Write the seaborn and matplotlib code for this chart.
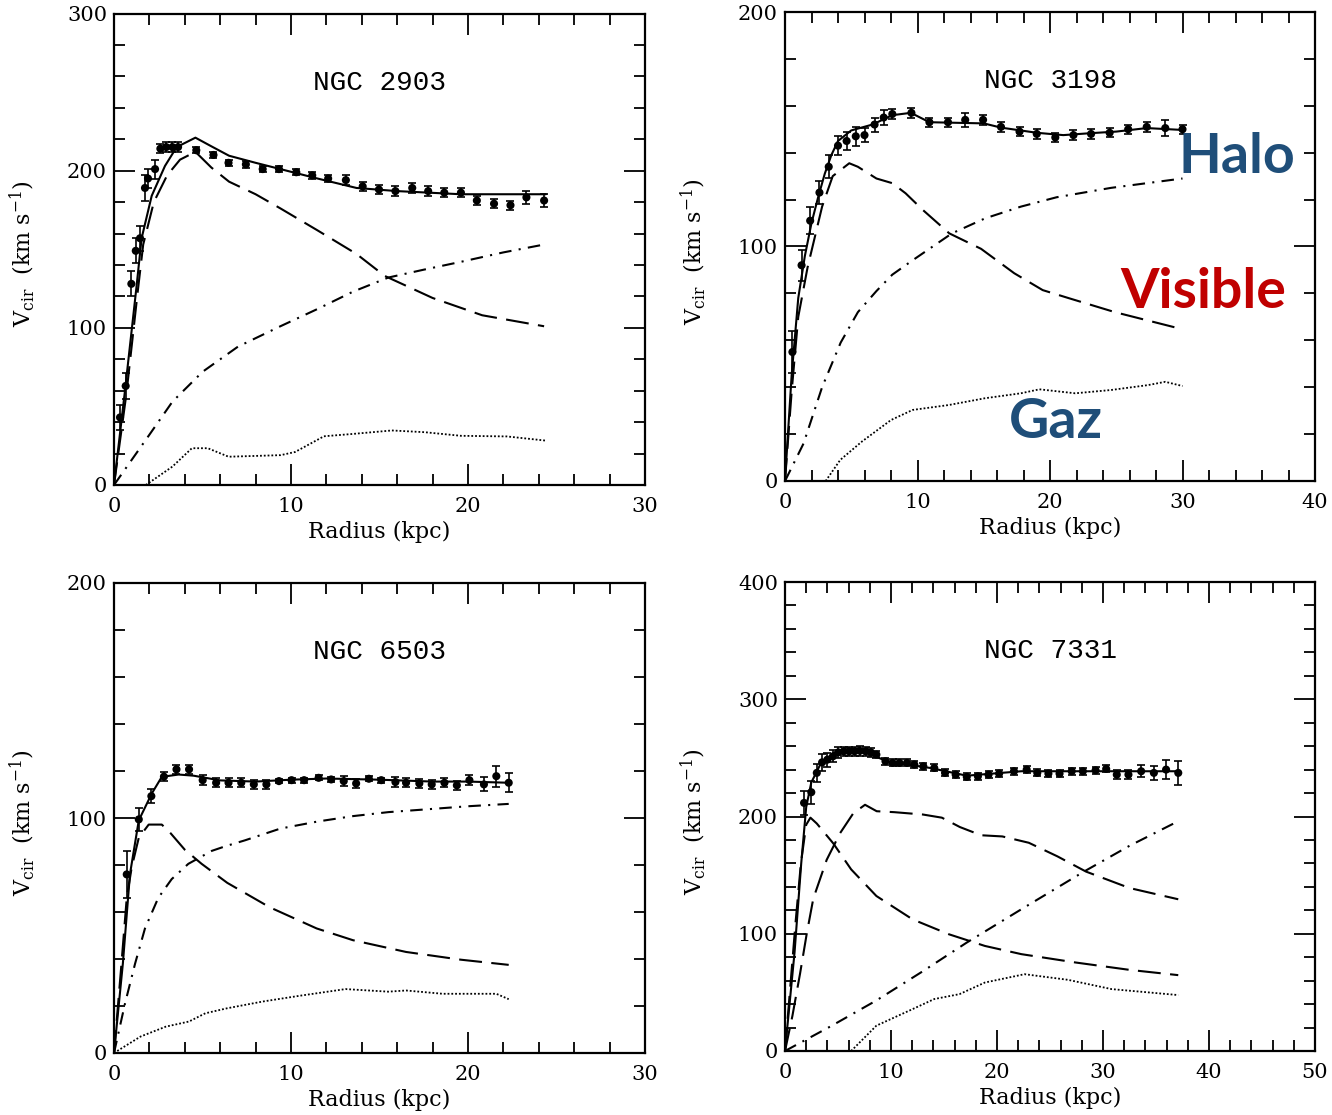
import numpy as np
import pandas as pd
import matplotlib
matplotlib.use("Agg")
import matplotlib.pyplot as plt
import seaborn as sns
from matplotlib.ticker import MultipleLocator

# ---------------- NGC 2903 ----------------
obs_2903_r = [0.34, 0.66, 0.98, 1.23, 1.47, 1.75, 1.92, 2.32, 2.62, 2.95, 3.3, 3.62, 4.65, 5.62, 6.47,
              7.45, 8.4, 9.32, 10.3, 11.2, 12.1, 13.1, 14.05, 14.97, 15.9, 16.85, 17.75, 18.66,
              19.6, 20.5, 21.47, 22.4, 23.3, 24.3]
obs_2903_v = [43, 63, 128, 149, 157, 189, 195, 201, 214, 215, 215, 215, 213, 210, 205, 204, 201,
              201, 199, 197, 195, 194, 190, 188, 187, 189, 187, 186, 186, 181, 179, 178, 183, 181]
obs_2903_e = [8, 8, 8, 8, 8, 8, 6, 6, 3, 3, 3, 3, 2, 2, 2, 2, 2, 2, 2, 2, 2, 3, 3, 3, 3, 3, 3, 3,
              3, 3, 3, 3, 4, 4]
tot_2903_r = [0, 0.62, 1.28, 1.56, 2.13, 2.88, 3.54, 4.6, 5.5, 6.5, 8.0, 9.4, 11.5, 13.7, 16.0, 19.6, 22.0, 24.4]
tot_2903_v = [0, 60, 127, 157, 184, 203, 215, 221, 215.5, 209.5, 205, 201, 195, 189, 187, 185, 185, 185]
vis_2903_r = [0, 0.7, 1.35, 1.65, 2.25, 3.0, 3.73, 4.6, 5.5, 6.5, 8.0, 9.4, 11.5, 13.7, 15.3, 18.0, 20.8, 24.3]
vis_2903_v = [0, 58, 124, 153, 180, 197, 207, 212, 202, 193, 185, 176, 162, 147, 133, 119, 108, 101]
halo_2903_r = [0, 1, 2, 3.3, 5, 7, 9.4, 11.5, 13.5, 15.5, 17.5, 19.6, 22, 24.3]
halo_2903_v = [0, 16, 32, 53, 72, 88, 101, 112, 123, 132, 137, 142, 148, 153]
gas_2903_r = [1.8, 3.3, 4.4, 5.3, 6.47, 8.0, 9.42, 10.23, 11.86, 13.5, 15.7, 17.55, 19.6, 22.2, 24.35]
gas_2903_v = [0, 11.7, 23.4, 23.4, 18, 18.5, 19, 21, 31, 32.5, 34.7, 33.6, 31.3, 30.9, 28.3]

# ---------------- NGC 3198 ----------------
obs_3198_r = [0.56, 1.25, 1.9, 2.6, 3.3, 4.0, 4.65, 5.34, 6.0, 6.76, 7.45, 8.1, 9.54, 10.9, 12.3,
              13.6, 14.95, 16.3, 17.7, 19.0, 20.4, 21.77, 23.1, 24.5, 25.9, 27.3, 28.7, 30.0]
obs_3198_v = [55, 92, 111, 123, 134, 143, 145, 147, 147.5, 152, 155, 156.5, 157, 153, 153, 154, 154,
              151, 149, 148, 146.5, 147.5, 148, 148.5, 150, 151, 150.5, 150]
obs_3198_e = [9, 6.5, 5.7, 5, 5, 4, 4, 4, 3, 3, 3, 2, 2, 2, 2, 3, 2, 2, 2, 2, 2, 2, 2, 2, 2, 2, 3.5, 2]
tot_3198_r = [0, 0.5, 1.0, 1.5, 2.0, 2.5, 3.0, 3.5, 4.0, 5.0, 6.6, 8.1, 9.5, 10.9, 15.0, 16.3, 19.0,
              21.0, 23.0, 25.0, 27.3, 30.0]
tot_3198_v = [0, 45, 78, 96, 110, 121, 131, 139, 145, 149.5, 152, 156, 157, 153, 152.5, 150.7, 148.5,
              147.5, 148.3, 149, 150.5, 149.7]
vis_3198_r = [0, 0.5, 1.0, 1.7, 2.8, 3.6, 4.85, 5.5, 6.9, 8.1, 9.1, 10.4, 12.4, 14.8, 17.3, 19.45, 21.4, 24.9, 30.0]
vis_3198_v = [0, 38, 70, 91, 117, 130, 135.5, 134, 129, 127, 122.7, 115.6, 105.6, 99, 88.6, 81.4, 78, 72, 64.7]
halo_3198_r = [0, 1.4, 2.8, 4.2, 5.5, 6.9, 8.1, 9.6, 12.6, 15.1, 17.8, 20.5, 24.6, 30.0]
halo_3198_v = [0, 16, 40, 59, 72, 81, 88, 94, 105.6, 112, 117, 121, 125, 129]
gas_3198_r = [3.07, 4.17, 5.8, 8.0, 9.63, 12.36, 15.1, 17.8, 19.2, 21.9, 24.6, 27.4, 28.7, 30.0]
gas_3198_v = [0, 9, 16.8, 26, 30.3, 32.4, 35.3, 37.4, 39.1, 37.4, 38.8, 40.9, 42.3, 40.5]

# ---------------- NGC 6503 ----------------
obs_6503_r = [0.72, 1.4, 2.11, 2.82, 3.53, 4.24, 5.01, 5.77, 6.47, 7.19, 7.9, 8.61, 9.32, 10.03,
              10.74, 11.56, 12.27, 12.98, 13.68, 14.4, 15.1, 15.9, 16.5, 17.25, 17.95, 18.67, 19.37,
              20.08, 20.9, 21.6, 22.3]
obs_6503_v = [76, 99.4, 109.3, 117.6, 120.7, 120.7, 116.1, 115, 115, 115, 114.3, 114.3, 115.7, 116.1,
              116.1, 117.1, 116.4, 115.7, 114.7, 116.7, 116.1, 115.3, 115, 114.7, 114.3, 115, 113.9,
              116.1, 114.3, 117.8, 115]
obs_6503_e = [10, 5, 3, 2, 2, 2, 2, 2, 2, 2, 2, 2, 1, 1, 1, 1, 1, 2, 2, 1, 1, 2, 2, 2, 2, 2, 2, 2,
              3, 4.5, 4]
tot_6503_r = [0, 0.5, 0.9, 1.4, 2.14, 2.7, 3.65, 4.5, 6.0, 8.0, 10.0, 12.0, 15.0, 18.0, 20.0, 22.3]
tot_6503_v = [0, 38, 76, 99, 110.5, 117.5, 118.5, 118, 116, 115.5, 116.3, 116.8, 116.3, 115.5, 115.5, 115]
vis_6503_r = [0, 0.4, 0.72, 1.0, 1.4, 1.96, 2.7, 3.2, 4.0, 4.95, 6.4, 8.8, 11.45, 13.5, 16.5, 19.6, 22.3]
vis_6503_v = [0, 36, 66, 79, 91.6, 97.2, 97.2, 93.5, 86.5, 80.5, 72.4, 62, 53, 48, 43, 39.7, 37.5]
halo_6503_r = [0, 0.62, 1.19, 1.75, 2.5, 3.26, 4.2, 5.52, 6.3, 7.4, 9.4, 11.5, 13.5, 15.5, 17.5, 20, 22.3]
halo_6503_v = [0, 21, 38, 53, 66, 74, 80.5, 86, 88, 90.5, 95.5, 98.5, 100.8, 102.5, 103.6, 105, 106]
gas_6503_r = [0, 1.5, 2.92, 4.24, 5.16, 6.37, 8.4, 10.44, 13.08, 15.5, 16.5, 18.57, 21.6, 22.3]
gas_6503_v = [0, 7, 11.2, 13.4, 16.9, 19, 21.9, 24.3, 27.2, 26.1, 26.6, 25.2, 25.2, 22.9]

# ---------------- NGC 7331 ----------------
obs_7331_r = [1.8, 2.48, 3.0, 3.5, 4.0, 4.52, 5.03, 5.54, 6.05, 6.56, 7.07, 7.6, 8.1, 8.62, 9.48,
              10.15, 10.8, 11.5, 12.2, 13.05, 14.08, 15.1, 16.1, 17.15, 18.2, 19.2, 20.2, 21.6, 22.8,
              23.8, 24.85, 25.9, 27.05, 28.1, 29.3, 30.3, 31.3, 32.4, 33.6, 34.8, 35.95, 37.1]
obs_7331_v = [211.6, 220.7, 237.2, 246.2, 248.5, 251.3, 254.7, 255.6, 255.6, 255.6, 256, 255.6,
              254.7, 252.8, 247.1, 245.7, 245.7, 245.7, 244.3, 242.8, 241.4, 237.2, 235.7, 233.8,
              234.3, 235.7, 236.6, 238.6, 240, 237.2, 236.6, 236.6, 238.6, 238.6, 239.4, 240.6,
              235.7, 235.7, 238.6, 237.2, 240, 237.2]
obs_7331_e = [10, 10, 8, 7, 6, 5, 5, 4, 4, 4, 4, 4, 4, 3, 3, 3, 3, 3, 3, 3, 3, 3, 3, 3, 3, 3, 3, 3,
              3, 3, 3, 3, 3, 3, 3, 3, 4, 4, 5, 6, 8, 10]
tot_7331_r = [0, 0.9, 1.53, 2.0, 2.48, 3.42, 4.68, 6.25, 7.5, 8.62, 9.6, 13.7, 17.15, 22.3, 29.1, 37.1]
tot_7331_v = [0, 84, 160, 208, 229, 246, 254.7, 258, 256.5, 251, 247, 241.4, 234.8, 238.6, 238.6, 238.6]
blg_7331_r = [0, 0.5, 1.0, 1.5, 2.0, 2.4, 3.0, 4.56, 6.24, 8.62, 12.03, 15.45, 18.86, 22.3, 27.4, 32.5, 37.1]
blg_7331_v = [0, 55, 110, 160, 193, 199, 194, 177, 154.9, 132.2, 112.3, 99.6, 89.6, 82.6, 75.5, 69.2, 64.7]
vis_7331_r = [0, 0.7, 1.42, 2.05, 2.67, 3.93, 5.19, 6.44, 7.55, 8.65, 10.3, 13.0, 14.8, 16.5, 18.5,
              20.5, 23.0, 25.7, 28.4, 32.5, 37.1]
vis_7331_v = [0, 30, 66, 100, 130, 163, 185.7, 202.7, 210, 204.5, 203.7, 201.7, 199, 191, 184, 183,
              177.6, 166, 153, 139, 129.4]
halo_7331_r = [0, 4.3, 8.6, 13.0, 17.15, 22.5, 28.2, 32.5, 37.1]
halo_7331_v = [0, 21, 43, 68, 92.5, 122, 153, 175, 196]
gas_7331_r = [6.24, 8.62, 12.03, 14.08, 16.46, 18.86, 22.6, 26.7, 30.8, 37.1]
gas_7331_v = [0, 21.6, 35.7, 44.3, 48.5, 58.4, 65.5, 60.7, 52.8, 47.7]

galaxy_names = ["NGC 2903", "NGC 3198", "NGC 6503", "NGC 7331"]
x_limits = [30, 40, 30, 50]
y_limits = [300, 200, 200, 400]

# ---------------- style ----------------
sns.set_theme(style="ticks")
plt.rcParams['font.family'] = ['DejaVu Serif']
plt.rcParams['mathtext.fontset'] = 'dejavuserif'

fig = plt.figure(figsize=(13.32, 11.15), dpi=100)
W, H = 1332.0, 1115.0


def axes_box(left, right, top, bottom):
    return [left / W, 1 - bottom / H, (right - left) / W, (bottom - top) / H]


boxes = [axes_box(114, 645, 13.5, 485),
         axes_box(785, 1315, 12, 481),
         axes_box(114, 645, 583, 1053),
         axes_box(785, 1315, 582, 1051)]

panels = [
    dict(obs=(obs_2903_r, obs_2903_v, obs_2903_e), tot=(tot_2903_r, tot_2903_v),
         vis=[(vis_2903_r, vis_2903_v)], halo=(halo_2903_r, halo_2903_v), gas=(gas_2903_r, gas_2903_v)),
    dict(obs=(obs_3198_r, obs_3198_v, obs_3198_e), tot=(tot_3198_r, tot_3198_v),
         vis=[(vis_3198_r, vis_3198_v)], halo=(halo_3198_r, halo_3198_v), gas=(gas_3198_r, gas_3198_v)),
    dict(obs=(obs_6503_r, obs_6503_v, obs_6503_e), tot=(tot_6503_r, tot_6503_v),
         vis=[(vis_6503_r, vis_6503_v)], halo=(halo_6503_r, halo_6503_v), gas=(gas_6503_r, gas_6503_v)),
    dict(obs=(obs_7331_r, obs_7331_v, obs_7331_e), tot=(tot_7331_r, tot_7331_v),
         vis=[(blg_7331_r, blg_7331_v), (vis_7331_r, vis_7331_v)], halo=(halo_7331_r, halo_7331_v),
         gas=(gas_7331_r, gas_7331_v)),
]

DASH = (0, (11, 4.5))
DASHDOT = (0, (6, 3.5, 1, 3.5))
DOT = (0, (1, 1.1))

for i, (box, p) in enumerate(zip(boxes, panels)):
    ax = fig.add_axes(box)
    ax.set_facecolor('white')

    r, v = p['tot']
    sns.lineplot(x=r, y=v, ax=ax, color='black', lw=1.5, sort=False, estimator=None)
    for (r, v) in p['vis']:
        sns.lineplot(x=r, y=v, ax=ax, color='black', lw=1.5, sort=False, estimator=None, linestyle=DASH)
    r, v = p['halo']
    sns.lineplot(x=r, y=v, ax=ax, color='black', lw=1.5, sort=False, estimator=None, linestyle=DASHDOT)
    r, v = p['gas']
    sns.lineplot(x=r, y=v, ax=ax, color='black', lw=1.3, sort=False, estimator=None, linestyle=DOT)

    r, v, e = p['obs']
    ax.errorbar(r, v, yerr=e, fmt='none', ecolor='black', elinewidth=1.2, capsize=3, capthick=1.2, zorder=4)
    sns.scatterplot(x=r, y=v, ax=ax, color='black', s=34, edgecolor='none', zorder=5)

    ax.set_xlim(0, x_limits[i])
    ax.set_ylim(0, y_limits[i])
    ax.xaxis.set_major_locator(MultipleLocator(10))
    ax.xaxis.set_minor_locator(MultipleLocator(2))
    ax.yaxis.set_major_locator(MultipleLocator(100))
    ax.yaxis.set_minor_locator(MultipleLocator(20))
    ax.tick_params(which='both', direction='in', top=True, right=True, color='black', width=1.3)
    ax.tick_params(which='major', length=15, labelsize=15, labelcolor='black')
    ax.tick_params(which='minor', length=8)
    ax.tick_params(axis='x', which='major', pad=9)
    ax.tick_params(axis='y', which='major', pad=5)
    for s in ax.spines.values():
        s.set_linewidth(1.6)
        s.set_color('black')
        s.set_visible(True)

    ax.set_xlabel('Radius (kpc)', fontsize=16, labelpad=3, color='black')
    ax.set_ylabel(r'V$_{\rm cir}$  (km s$^{-1}$)', fontsize=16, color='black')
    ax.yaxis.set_label_coords(-0.145, 0.49)

    ax.text(0.5, 0.853, galaxy_names[i], transform=ax.transAxes, ha='center', va='center',
            fontsize=20, family='Liberation Mono', color='black')

# annotations
fig.text(1237 / W, 1 - 157 / H, 'Halo', fontsize=40, fontweight='bold', color='#1F4E79',
         family='Lato', ha='center', va='center')
fig.text(1203 / W, 1 - 292 / H, 'Visible', fontsize=40, fontweight='bold', color='#C00000',
         family='Lato', ha='center', va='center')
fig.text(1056 / W, 1 - 422 / H, 'Gaz', fontsize=40, fontweight='bold', color='#1F4E79',
         family='Lato', ha='center', va='center')

fig.savefig('out.png', dpi=100, facecolor='white')
